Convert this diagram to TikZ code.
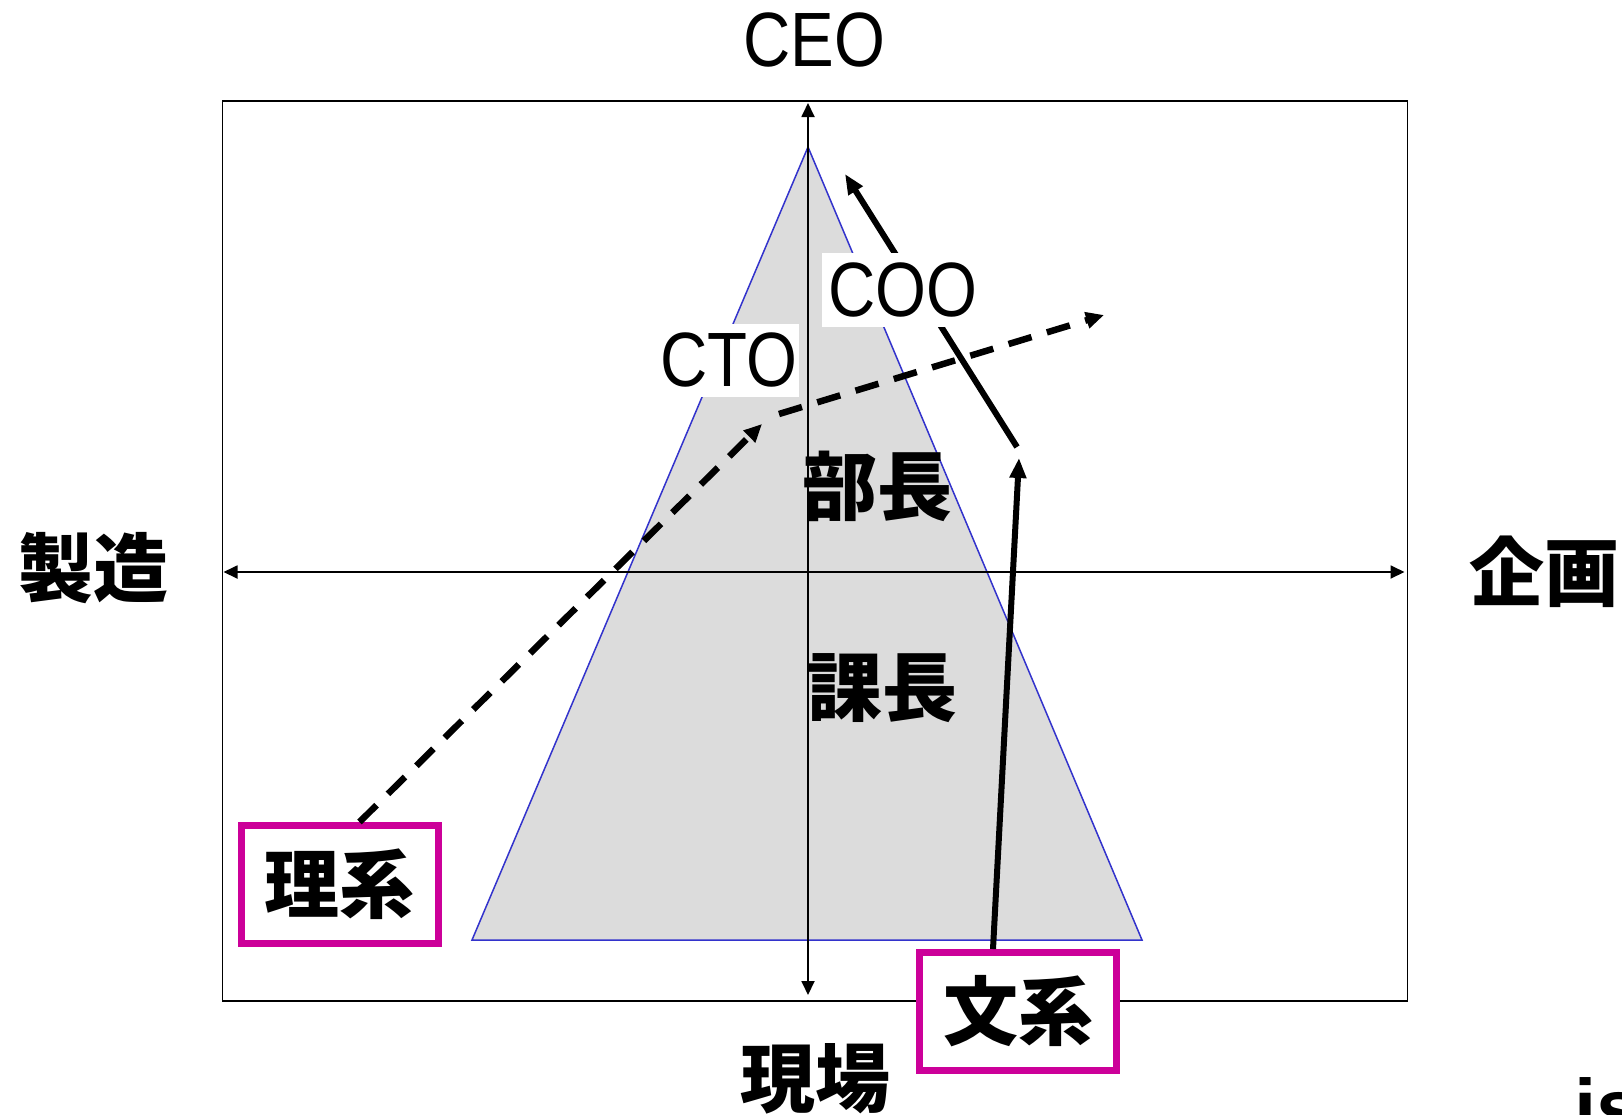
\documentclass[tikz,border=0pt]{standalone}
\usepackage{fontspec}
\setmainfont{Liberation Sans}
\newfontfamily\cjk{Noto Sans CJK JP}
\usetikzlibrary{arrows.meta}
\definecolor{tri}{RGB}{220,220,220}
\definecolor{triedge}{RGB}{51,51,204}
\definecolor{mag}{RGB}{204,0,153}
\newcommand{\latinlbl}[1]{\fontsize{77}{80}\selectfont\scalebox{0.85}[1]{#1}}
\tikzset{
  jlabel/.style={inner sep=0pt, font=\cjk\bfseries\fontsize{75}{78}\selectfont},
  elabel/.style={inner sep=0pt},
  wlabel/.style={inner sep=0pt, fill=white},
  magbox/.style={draw=mag, line width=7pt, fill=white, inner sep=0pt, minimum width=197pt, minimum height=118pt, font=\cjk\bfseries\fontsize{75}{78}\selectfont},
  axis/.style={line width=1.8pt, {Triangle[length=14pt,width=13pt]}-{Triangle[length=14pt,width=13pt]}},
  thickarrow/.style={line width=6pt, -{Triangle[length=20pt,width=16pt]}},
  dasharrow/.style={line width=6.5pt, dash pattern=on 24pt off 16pt, -{Triangle[length=18pt,width=16pt]}}
}
\begin{document}
\begin{tikzpicture}[x=1pt,y=-1pt]
\useasboundingbox (0,0) rectangle (1622,1114);
\clip (0,0) rectangle (1622,1114);
% triangle
\draw[fill=tri, draw=triedge, line width=1.5pt] (808,147) -- (1142,940) -- (472,940) -- cycle;
% frame
\draw[line width=1.8pt] (222.5,101) rectangle (1407.5,1001);
% axes
\coordinate (ytop) at (808,103);
\coordinate (ybot) at (808,995);
\coordinate (xleft) at (223.5,572);
\coordinate (xright) at (1404.5,572);
\draw[axis] (ybot) -- (ytop);
\draw[axis] (xleft) -- (xright);
% boxes
\node[magbox] (rikei) at (339.5,884.5) {理系};
\node[magbox] (bunkei) at (1018,1011.5) {文系};
% arrows
\coordinate (d1) at (762,424);
\coordinate (d2) at (779,414);
\coordinate (d3) at (1104,315);
\draw[dasharrow] ([xshift=20pt]rikei.north) -- (d1);
\draw[dasharrow] (d2) -- (d3);
\coordinate (p1) at (1019,458);
\coordinate (q1) at (1017,447);
\coordinate (q2) at (845,174);
\draw[thickarrow] ([xshift=-25pt]bunkei.north) -- (p1);
\draw[thickarrow] (q1) -- (q2);
% labels
\node[elabel] (ceo) at (814,40) {\latinlbl{CEO}};
\node[wlabel, minimum width=163pt, minimum height=74pt] (coo) at (903,290) {\latinlbl{COO}};
\node[wlabel, minimum width=140pt, minimum height=73pt] (cto) at (729,360) {\latinlbl{CTO}};
\node[jlabel] (bucho) at (877,486) {部長};
\node[jlabel] (kacho) at (882,688) {課長};
\node[jlabel] (seizo) at (93.5,568) {製造};
\node[jlabel] (kikaku) at (1544,572) {企画};
\node[jlabel] (genba) at (815,1079) {現場};
\node[anchor=base west, inner sep=0pt, font=\bfseries\fontsize{80}{84}\selectfont] (is) at (1574,1135) {is};
\end{tikzpicture}
\end{document}
